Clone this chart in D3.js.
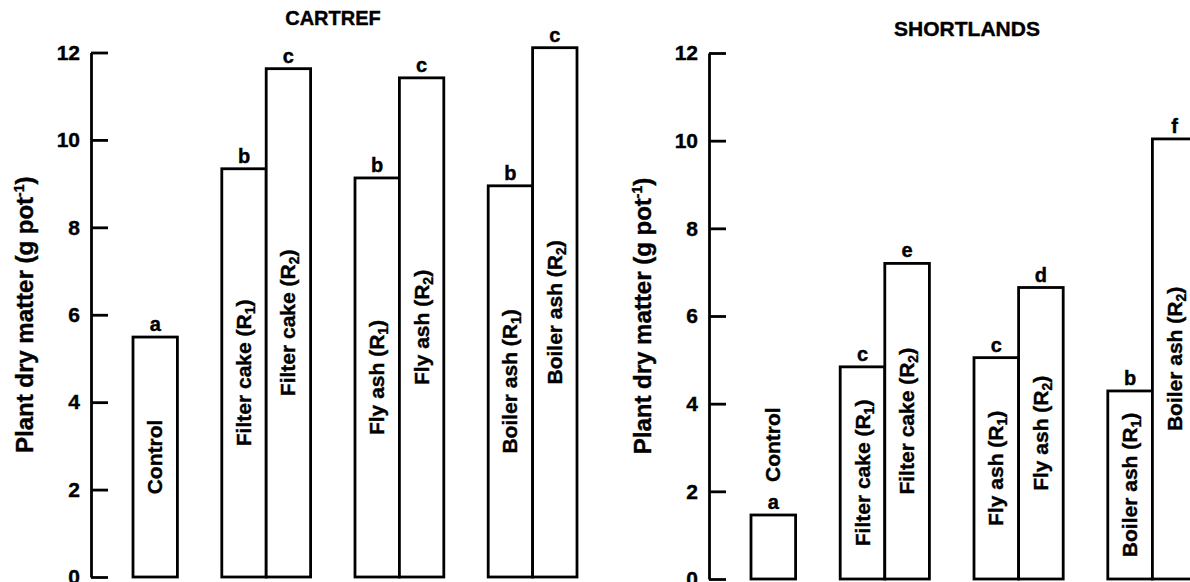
<!DOCTYPE html>
<html>
<head>
<meta charset="utf-8">
<script src="https://cdn.jsdelivr.net/npm/d3@7/dist/d3.min.js"></script>
<style>
  body { margin: 0; background: #fff; }
  text { font-family: "Liberation Sans", Arial, sans-serif; font-weight: bold; fill: #000; stroke: #000; stroke-width: 0.4px; }
</style>
</head>
<body>
<div id="chart"></div>
<script>
// Data
var treatments = ["Control", "Filter cake", "Fly ash", "Boiler ash"];
var rates = ["1", "2"];
var yTicks = [0, 2, 4, 6, 8, 10, 12];

var cartrefValues = [5.49, 9.34, 11.63, 9.13, 11.42, 8.95, 12.11];
var cartrefLetters = ["a", "b", "c", "b", "c", "b", "c"];

var shortlandsValues = [1.46, 4.84, 7.20, 5.05, 6.65, 4.29, 10.04];
var shortlandsLetters = ["a", "c", "e", "c", "d", "b", "f"];

var width = 1190;
var height = 582;

var svg = d3.select("#chart").append("svg")
    .attr("width", width)
    .attr("height", height);

// slot keys: control, then an empty slot before each pair of rates
var keys = [];
var barKeys = [];
treatments.forEach(function(t, i) {
    if (i == 0) {
        keys.push(t);
        barKeys.push({name: t, key: t});
    } else {
        keys.push("gap" + i);
        rates.forEach(function(r) {
            keys.push(t + r);
            barKeys.push({name: t, rate: r, key: t + r});
        });
    }
});

function panel(o) {
    var g = svg.append("g");

    var y = d3.scaleLinear()
        .domain([0, 12])
        .range([o.bottom, o.top]);

    var x = d3.scaleBand()
        .domain(keys)
        .range([o.axisX + 42, o.axisX + 42 + o.slot * keys.length]);

    var yAxis = d3.axisLeft(y)
        .tickValues(yTicks)
        .tickSize(-17)
        .tickSizeOuter(0)
        .tickPadding(11);

    var ag = g.append("g")
        .attr("transform", "translate(" + o.axisX + ",0)")
        .call(yAxis);
    ag.attr("font-family", null).attr("font-size", null);
    ag.selectAll("path, line").attr("stroke", "#000").attr("stroke-width", 2.8);
    ag.selectAll("text").style("font-size", "21px");

    // y label
    var yl = g.append("text")
        .attr("transform", "translate(" + (o.axisX - 58) + "," + y(6) + ") rotate(-90)")
        .attr("text-anchor", "middle")
        .style("font-size", "24px")
        .text("Plant dry matter (g pot");
    yl.append("tspan").attr("dy", -9).style("font-size", "14px").text("-1");
    yl.append("tspan").attr("dy", 9).text(")");

    // title
    g.append("text")
        .attr("x", o.titleX)
        .attr("y", o.titleY)
        .attr("text-anchor", "middle")
        .style("font-size", o.titleSize)
        .text(o.title);

    var data = barKeys.map(function(b, i) {
        return {name: b.name, rate: b.rate, key: b.key, value: o.values[i], letter: o.letters[i]};
    });

    g.append("g").selectAll("rect")
        .data(data)
        .enter()
        .append("rect")
        .attr("x", function(d) { return x(d.key); })
        .attr("y", function(d) { return y(d.value); })
        .attr("width", x.bandwidth())
        .attr("height", function(d) { return y(0) - y(d.value); })
        .attr("fill", "#fff")
        .attr("stroke", "#000")
        .attr("stroke-width", 2.8);

    g.append("g").selectAll("text")
        .data(data)
        .enter()
        .append("text")
        .attr("x", function(d) { return x(d.key) + x.bandwidth() / 2; })
        .attr("y", function(d) { return y(d.value) - 6; })
        .attr("text-anchor", "middle")
        .style("font-size", "20px")
        .text(function(d) { return d.letter; });

    // names inside the bars, or above when the bar is too short
    g.append("g").selectAll("text")
        .data(data)
        .enter()
        .append("text")
        .style("font-size", "21px")
        .each(function(d) {
            var t = d3.select(this);
            if (d.rate) {
                t.append("tspan").text(d.name + " (R");
                t.append("tspan").attr("dy", 4).style("font-size", "14px").text(d.rate);
                t.append("tspan").attr("dy", -4).text(")");
            } else {
                t.text(d.name);
            }
            var len = this.getComputedTextLength();
            var cx = x(d.key) + x.bandwidth() / 2 + 7;
            if (len < y(0) - y(d.value) - 20) {
                t.attr("text-anchor", "middle")
                 .attr("transform", "translate(" + cx + "," + y(d.value / 2) + ") rotate(-90)");
            } else {
                t.attr("text-anchor", "start")
                 .attr("transform", "translate(" + cx + "," + (y(d.value) - 33) + ") rotate(-90)");
            }
        });
}

panel({axisX: 91, top: 52.5, bottom: 577, slot: 44.4, values: cartrefValues, letters: cartrefLetters,
       title: "CARTREF", titleX: 333, titleY: 25, titleSize: "20px"});
panel({axisX: 709, top: 53, bottom: 579, slot: 44.6, values: shortlandsValues, letters: shortlandsLetters,
       title: "SHORTLANDS", titleX: 967, titleY: 36, titleSize: "21px"});
</script>
</body>
</html>
